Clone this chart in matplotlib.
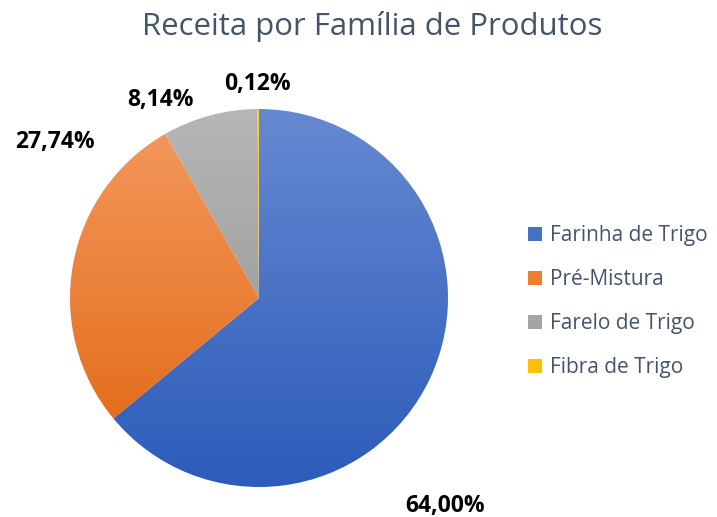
import numpy as np
import matplotlib
matplotlib.use('Agg')
import matplotlib.pyplot as plt
from matplotlib.colors import LinearSegmentedColormap
from matplotlib.patches import Patch

categories = ['Farinha de Trigo', 'Pré-Mistura', 'Farelo de Trigo', 'Fibra de Trigo']
values = [64.00, 27.74, 8.14, 0.12]
pct_labels = ['64,00%', '27,74%', '8,14%', '0,12%']

# gradientes (claro em cima, escuro em baixo)
grad = [('#6689D1', '#2C5BBA'),
        ('#F49A60', '#E0650F'),
        ('#B6B6B6', '#8E8E8E'),
        ('#FFCD45', '#E3A800')]
solid = ['#4472C4', '#ED7D31', '#A5A5A5', '#FFC000']

# posicoes dos rotulos (px, origem embaixo)
label_pos = [(445, 11), (55, 375), (161, 417), (257, 433)]

plt.rcParams['font.family'] = ['Open Sans', 'DejaVu Sans']

fig = plt.figure(figsize=(7.17, 5.17), dpi=100)
ax = fig.add_axes([0, 0, 1, 1])

cx, cy, R = 259, 219, 189
wedges, _ = ax.pie(values, center=(cx, cy), radius=R, startangle=90,
                   counterclock=False, frame=True,
                   wedgeprops=dict(linewidth=0, facecolor='none'))
ax.set_xlim(0, 717)
ax.set_ylim(0, 517)
ax.set_aspect('equal')
ax.axis('off')

g = np.linspace(0, 1, 256).reshape(-1, 1)
for w, (c1, c2) in zip(wedges, grad):
    cmap = LinearSegmentedColormap.from_list('g', [c1, c2])
    im = ax.imshow(g, cmap=cmap, extent=(cx - R, cx + R, cy - R, cy + R),
                   origin='upper', aspect='auto', zorder=1)
    im.set_clip_path(w)

for (x, y), t in zip(label_pos, pct_labels):
    ax.text(x, y, t, ha='center', va='center', fontsize=16.5,
            fontweight='bold', color='black')

ax.text(372, 491, 'Receita por Família de Produtos', ha='center', va='center',
        fontsize=22.4, color='#44546A')

handles = [Patch(facecolor=c, edgecolor='none') for c in solid]
leg = fig.legend(handles, categories, loc='upper left',
                 bbox_to_anchor=(520 / 717, 1 - 217 / 517), frameon=False,
                 fontsize=15, labelcolor='#44546A', handlelength=0.65,
                 handleheight=0.65, handletextpad=0.4, labelspacing=1.1,
                 borderaxespad=0)

fig.savefig('out.png', dpi=100)
